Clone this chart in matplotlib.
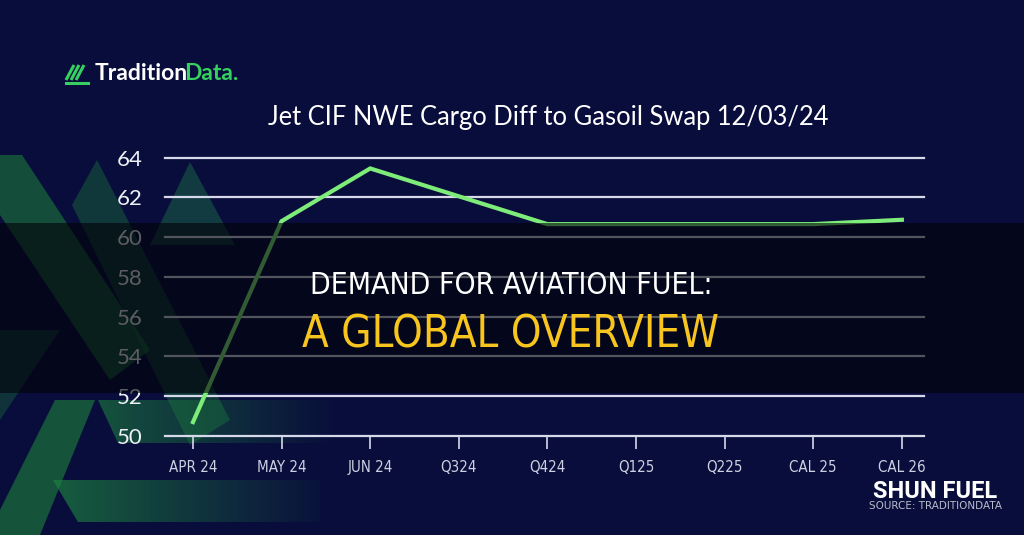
import numpy as np
import matplotlib.pyplot as plt
from matplotlib import font_manager
from matplotlib.patches import Polygon, Rectangle

# dados do grafico
labels = ['APR 24', 'MAY 24', 'JUN 24', 'Q324', 'Q424', 'Q125', 'Q225', 'CAL 25', 'CAL 26']
values = [50.7, 60.8, 63.45, 62.05, 60.65, 60.65, 60.65, 60.65, 60.87]
yticks = [50, 52, 54, 56, 58, 60, 62, 64]

title = 'Jet CIF NWE Cargo Diff to Gasoil Swap 12/03/24'
headline1 = 'DEMAND FOR AVIATION FUEL:'
headline2 = 'A GLOBAL OVERVIEW'

navy = '#090d3b'
green_line = '#7eec78'
grid_col = '#d6d9ea'


# procura uma fonte estreita instalada
def narrow_font():
    cands = []
    for f in font_manager.fontManager.ttflist:
        fn = f.fname.lower()
        if f.style != 'normal' or f.weight not in (400, 'normal', 'regular'):
            continue
        if 'narrow' in fn and 'liberation' in fn:
            cands.append((0, f.fname))
        elif 'notosans-extracondensed.' in fn:
            cands.append((1, f.fname))
        elif 'dejavusanscondensed.ttf' in fn:
            cands.append((2, f.fname))
        elif 'notosans-condensed.' in fn:
            cands.append((3, f.fname))
        elif 'condensed' in str(f.stretch) and 'sans' in f.name.lower():
            cands.append((4, f.fname))
    if cands:
        return sorted(cands)[0]
    return None


nf = narrow_font()


def narrow(size):
    if nf is None:
        return dict(family='DejaVu Sans', fontsize=size * 0.8)
    if nf[0] >= 2:
        size = size * 0.83
    p = font_manager.FontProperties(fname=nf[1])
    p.set_size(size)
    return dict(fontproperties=p)


W, H = 1024, 535
fig = plt.figure(figsize=(W / 100, H / 100), dpi=100, facecolor=navy)

# fundo com formas verdes (coordenadas em pixels)
bg = fig.add_axes([0, 0, 1, 1], zorder=-1)
bg.set_xlim(0, W)
bg.set_ylim(H, 0)
bg.set_facecolor(navy)
bg.axis('off')


def gradient_poly(ax, pts, c0, a0, a1):
    poly = Polygon(pts, closed=True, facecolor='none', edgecolor='none')
    ax.add_patch(poly)
    xs = [p[0] for p in pts]
    ys = [p[1] for p in pts]
    img = np.zeros((2, 64, 4))
    img[..., :3] = np.array(plt.matplotlib.colors.to_rgb(c0))
    img[..., 3] = np.linspace(a0, a1, 64)
    im = ax.imshow(img, extent=[min(xs), max(xs), max(ys), min(ys)], aspect='auto', zorder=1)
    im.set_clip_path(poly)


g = '#1d7a3c'
bg.add_patch(Polygon([(0, 155), (22, 155), (150, 350), (110, 380), (0, 215)], color=g, alpha=0.6, lw=0))
bg.add_patch(Polygon([(97, 160), (230, 420), (190, 445), (72, 205)], color=g, alpha=0.4, lw=0))
bg.add_patch(Polygon([(190, 162), (150, 245), (235, 245)], color='#1c6a48', alpha=0.5, lw=0))
bg.add_patch(Polygon([(0, 330), (60, 330), (0, 420)], color=g, alpha=0.35, lw=0))
bg.add_patch(Polygon([(55, 400), (95, 400), (40, 535), (0, 535), (0, 510)], color=g, alpha=0.65, lw=0))
gradient_poly(bg, [(98, 400), (340, 400), (340, 443), (118, 443)], '#1d8040', 0.6, 0.0)
gradient_poly(bg, [(53, 480), (320, 480), (320, 522), (78, 522)], '#1d8040', 0.7, 0.05)

# logo
for k in range(3):
    bg.plot([66 + k * 5, 74 + k * 5], [80, 65], color='#35d060', lw=2.2, solid_capstyle='butt')
bg.plot([66, 88], [83, 83], color='#35d060', lw=2.2)
t1 = bg.text(95, 74, 'Tradition', color='white', fontsize=16.5, fontweight='bold',
             family=['Lato', 'DejaVu Sans'], ha='left', va='center')
bg.annotate('Data.', xy=(1, 0), xycoords=t1, xytext=(-3, 0), textcoords='offset points',
            color='#35d060', fontsize=16.5, fontweight='bold',
            family=['Lato', 'DejaVu Sans'], ha='left', va='bottom')

bg.text(548, 117, title, color='white', fontsize=18.4, family=['Lato', 'DejaVu Sans'],
        ha='center', va='center')

# grafico principal
ax = fig.add_axes([165 / W, 1 - 436 / H, (924 - 165) / W, (436 - 157.5) / H], zorder=1)
ax.patch.set_alpha(0)
x = np.arange(len(labels))
for t in yticks:
    ax.axhline(t, color=grid_col, lw=1.6, clip_on=False, zorder=1)
ax.plot(x, values, color=green_line, lw=3, zorder=3, solid_joinstyle='miter', clip_on=False)
ax.set_xlim(-0.316, 8.25)
ax.set_ylim(50, 64)
ax.set_yticks(yticks)
ax.set_xticks(x)
ax.set_xticklabels(labels)
for s in ax.spines.values():
    s.set_visible(False)
ax.tick_params(axis='y', length=0, pad=16, labelcolor='#eef0f6', labelsize=16)
ax.tick_params(axis='x', length=9, width=1.2, color=grid_col, pad=8, labelcolor='#cdd1e2')
for lab in ax.get_yticklabels():
    lab.set_family(['Lato', 'DejaVu Sans'])
for lab in ax.get_xticklabels():
    lab.update(narrow(13))

# faixa escura com manchete
top = fig.add_axes([0, 0, 1, 1], zorder=3)
top.set_xlim(0, W)
top.set_ylim(H, 0)
top.patch.set_alpha(0)
top.axis('off')
top.add_patch(Rectangle((0, 223), W, 170, color='#020208', alpha=0.62, lw=0))
top.text(511, 285, headline1, color='white', ha='center', va='center', **narrow(26))
top.text(510, 335, headline2, color='#f7c51e', ha='center', va='center', **narrow(37.8))

top.text(997, 491, 'SHUN FUEL', color='white', fontsize=17, fontweight='bold',
         family=['Roboto', 'DejaVu Sans'], ha='right', va='center')
top.text(1002, 506, 'SOURCE: TRADITIONDATA', color='#b8bccb', fontsize=7.5,
         family=['DejaVu Sans'], ha='right', va='center')

fig.savefig('out.png', dpi=100, facecolor=navy)
